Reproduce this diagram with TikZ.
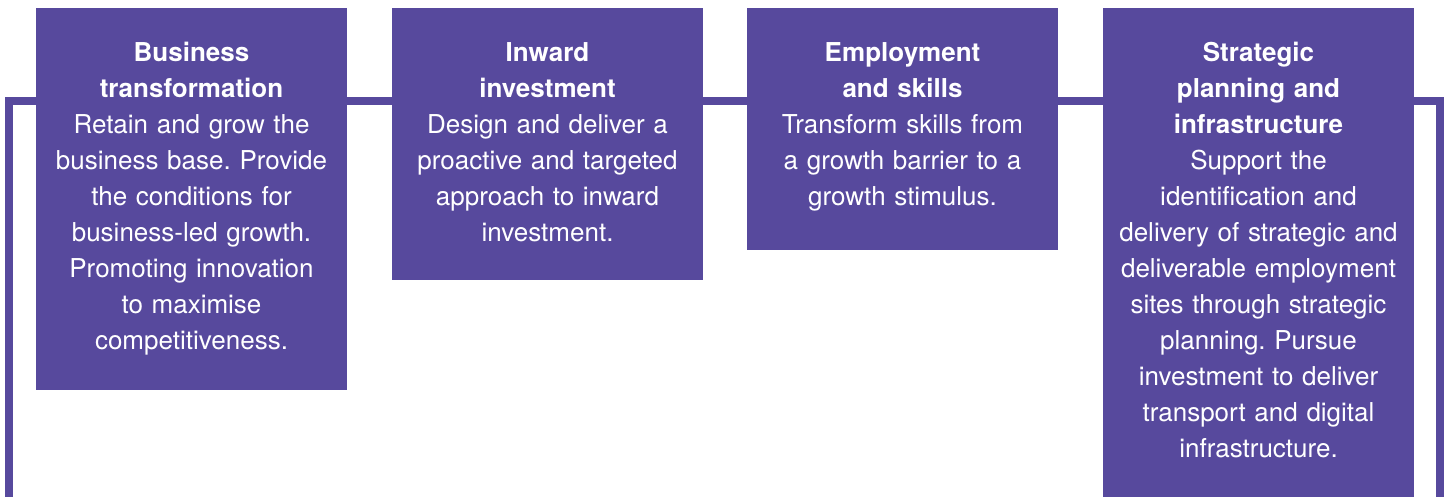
\documentclass[tikz,border=0pt]{standalone}
\usepackage{fontspec}
\setmainfont{TeX Gyre Heros}
\usetikzlibrary{calc,backgrounds}
\definecolor{brand}{RGB}{87,73,157}
\frenchspacing
\begin{document}
\begin{tikzpicture}[x=1pt,y=-1pt,
  pbox/.style={fill=brand, draw=none, minimum width=311pt, inner sep=0pt, outer sep=0pt, anchor=north},
  ptext/.style={text=white, align=center, text width=311pt, inner sep=0pt, outer sep=0pt, anchor=north, font=\fontsize{26}{36}\selectfont\frenchspacing},
  rail/.style={draw=brand, line width=8pt, line join=miter}]
\useasboundingbox (0,0) rectangle (1451,497);
\clip (0,0) rectangle (1451,497);
% boxes
\node[pbox, minimum height=382pt] (b1) at (191.5,8) {};
\node[pbox, minimum height=272pt] (b2) at (547.5,8) {};
\node[pbox, minimum height=242pt] (b3) at (902.5,8) {};
\node[pbox, minimum height=520pt] (b4) at (1258.5,8) {};
% texts
\node[ptext] (t1) at ($(b1.north)+(0,28.8)$) {\strut\textbf{Business}\\\textbf{transformation}\\Retain and grow the\\business base. Provide\\the conditions for\\business-led growth.\\Promoting innovation\\to maximise\\competitiveness.};
\node[ptext] (t2) at ($(b2.north)+(0,28.8)$) {\strut\textbf{Inward}\\\textbf{investment}\\Design and deliver a\\proactive and targeted\\approach to inward\\investment.};
\node[ptext] (t3) at ($(b3.north)+(0,28.8)$) {\strut\textbf{Employment}\\\textbf{and skills}\\Transform skills from\\a growth barrier to a\\growth stimulus.};
\node[ptext] (t4) at ($(b4.north)+(0,28.8)$) {\strut\textbf{Strategic}\\\textbf{planning and}\\\textbf{infrastructure}\\Support the\\identification and\\delivery of strategic and\\deliverable employment\\sites through strategic\\planning. Pursue\\investment to deliver\\transport and digital\\infrastructure.};
% rail
\coordinate (railL) at (9.3,510);
\coordinate (railR) at (1440.3,510);
\coordinate (ry) at (0,101);
\begin{pgfonlayer}{background}
\draw[rail] (railL) |- (b1.center |- ry);
\draw[rail] (b1.center |- ry) -- (b2.center |- ry);
\draw[rail] (b2.center |- ry) -- (b3.center |- ry);
\draw[rail] (b3.center |- ry) -- (b4.center |- ry);
\draw[rail] (b4.center |- ry) -| (railR);
\end{pgfonlayer}
\end{tikzpicture}
\end{document}
